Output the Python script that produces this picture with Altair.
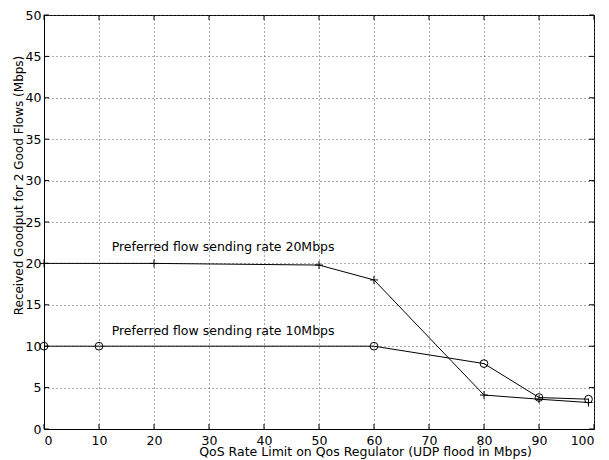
import altair as alt
import pandas as pd

x20 = [0, 20, 50, 60, 80, 90, 99]
y20 = [20, 20, 19.8, 18.0, 4.1, 3.6, 3.2]
x10 = [0, 10, 60, 80, 90, 99]
y10 = [10, 10, 10, 7.9, 3.8, 3.6]
labels = ["Preferred flow sending rate 20Mbps", "Preferred flow sending rate 10Mbps"]
label_x = [12.3, 12.3]
label_y = [21.5, 11.3]
xticks = list(range(0, 101, 10))
yticks = list(range(0, 51, 5))

W, H = 550, 414
d20 = pd.DataFrame({"x": x20, "y": y20})
d10 = pd.DataFrame({"x": x10, "y": y10})
dl = pd.DataFrame({"x": label_x, "y": label_y, "t": labels})
dxt = pd.DataFrame({"x": xticks})
dyt = pd.DataFrame({"y": yticks})

font = "DejaVu Sans"
xs = alt.Scale(domain=[0, 100], nice=False)
ys = alt.Scale(domain=[0, 50], nice=False)
xax = alt.Axis(title="QoS Rate Limit on Qos Regulator (UDP flood in Mbps)",
               values=xticks, grid=True, labelPadding=5,
               titleX=321, titleY=26, titleAlign="center", titleBaseline="alphabetic")
yax = alt.Axis(title="Received Goodput for 2 Good Flows (Mbps)",
               values=yticks, grid=True, labelPadding=3, titleFontSize=12,
               titleX=-22, titleY=170, titleAlign="center", titleBaseline="alphabetic",
               titleAngle=270)

X = alt.X("x:Q", scale=xs, axis=xax)
Y = alt.Y("y:Q", scale=ys, axis=yax)

l20 = alt.Chart(d20).mark_line(color="black", strokeWidth=1).encode(x=X, y=Y)
p20 = alt.Chart(d20).mark_point(shape="M-1,0L1,0M0,-1L0,1", filled=False, color="black",
                                size=64, strokeWidth=1, opacity=1).encode(x=X, y=Y)
l10 = alt.Chart(d10).mark_line(color="black", strokeWidth=1).encode(x=X, y=Y)
p10 = alt.Chart(d10).mark_point(shape="circle", filled=False, color="black",
                                size=60, strokeWidth=1, opacity=1).encode(x=X, y=Y)
txt = alt.Chart(dl).mark_text(align="left", baseline="alphabetic", font=font, fontSize=12.5,
                              color="black").encode(x=X, y=Y, text="t:N")

tick_top = alt.Chart(dxt).mark_rule(color="black", strokeWidth=1).encode(
    x=X, y=alt.value(0), y2=alt.value(5))
tick_bot = alt.Chart(dxt).mark_rule(color="black", strokeWidth=1).encode(
    x=X, y=alt.value(H), y2=alt.value(H - 5))
tick_left = alt.Chart(dyt).mark_rule(color="black", strokeWidth=1).encode(
    y=Y, x=alt.value(0), x2=alt.value(5))
tick_right = alt.Chart(dyt).mark_rule(color="black", strokeWidth=1).encode(
    y=Y, x=alt.value(W), x2=alt.value(W - 5))

chart = alt.layer(l20, p20, l10, p10, txt, tick_top, tick_bot, tick_left, tick_right).properties(
    width=W, height=H,
    autosize=alt.AutoSizeParams(type="none"),
    padding={"left": 44, "top": 15, "right": 15, "bottom": 31},
    background="white",
).configure_view(stroke="black", strokeWidth=1).configure_axis(
    labelFont=font, titleFont=font, labelFontSize=12.5, titleFontSize=12.5,
    titleFontWeight="normal", labelColor="black", titleColor="black",
    domainColor="black", tickColor="black", tickSize=0,
    gridColor="#555555", gridDash=[1, 3], gridWidth=1, gridOpacity=1,
)

chart.save("out.html", embed_options={"renderer": "svg", "actions": False})
